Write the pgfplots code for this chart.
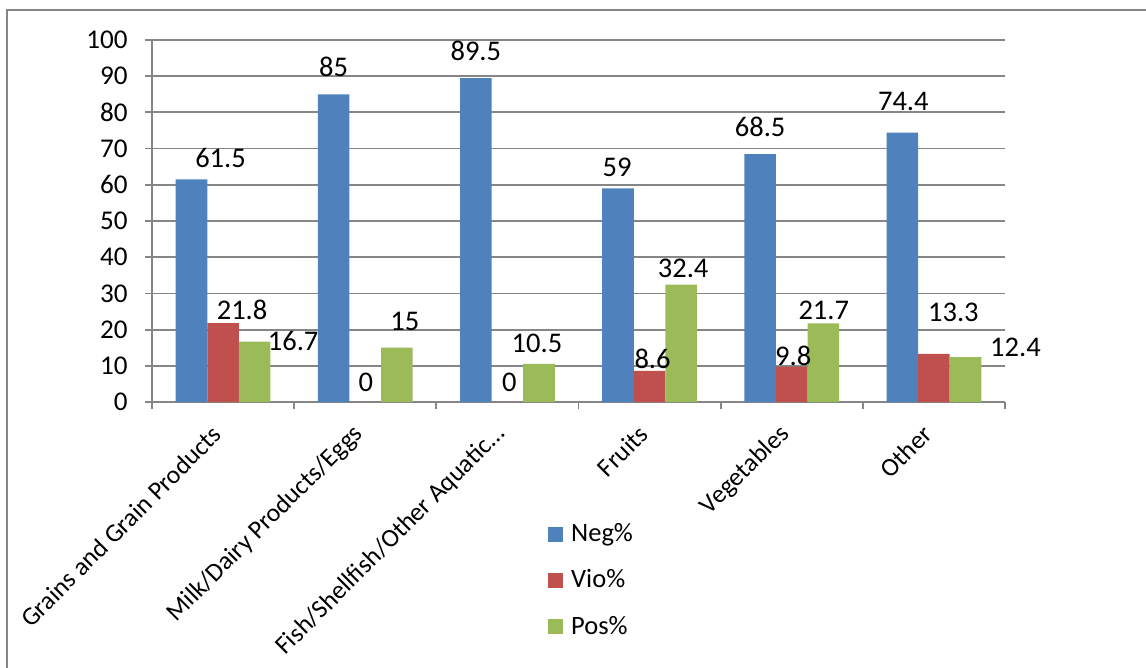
\documentclass[border=0pt]{standalone}
\usepackage{pgfplots}
\pgfplotsset{compat=1.18}
\usepackage{pgfplotstable}
\usepackage{fontspec}
\setmainfont{Carlito}

\definecolor{negc}{HTML}{4F81BD}
\definecolor{vioc}{HTML}{C0504D}
\definecolor{posc}{HTML}{9BBB59}
\definecolor{gridc}{HTML}{868686}

% x = category index, y = percentage,
% dx/dy = offset of the value label from the bar top (in 0.5bp steps)
\pgfplotstableread{
x y dx dy
0 61.5 29 21
1 85 0 27
2 89.5 0 27
3 59 -1 21
4 68.5 0 27
5 74.4 1 31
}\negtab
\pgfplotstableread{
x y dx dy
0 21.8 19 13
1 0 0.5 20
2 0 2 20
3 8.6 3 12
4 9.8 1.5 10.5
5 13.3 19.5 41
}\viotab
\pgfplotstableread{
x y dx dy
0 16.7 38.5 1
1 15 8 26
2 10.5 -2 21
3 32.4 2 16
4 21.7 0.5 13.4
5 12.4 50 10
}\postab

\begin{document}
\begin{tikzpicture}[font=\fontsize{13.3}{16}\selectfont]
\begin{axis}[
  at={(0,0)}, anchor=south west,
  scale only axis, width=426.5bp, height=181bp,
  xmin=-0.5, xmax=5.5, ymin=0, ymax=100,
  axis x line*=bottom, axis y line*=left,
  axis line style={gridc, line width=0.9bp},
  ytick={0,10,...,100},
  ymajorgrids, major grid style={gridc, line width=0.9bp},
  xtick={0,...,5},
  xticklabels={Grains and Grain Products, Milk/Dairy Products/Eggs,
    Fish/Shellfish/Other Aquatic…, Fruits, Vegetables, Other},
  minor xtick={-0.5,0.5,...,5.5},
  tick align=outside,
  major tick length=3.5bp, minor tick length=3.5bp,
  tick style={gridc, line width=0.9bp},
  major x tick style={draw=none},
  xticklabel style={xshift=-3bp, rotate=45, anchor=east, inner sep=0pt,
    font=\fontsize{12.9}{15}\selectfont},
  xticklabel shift=10.5bp,
  yticklabel style={anchor=east, inner sep=0pt, font=\fontsize{13.6}{16}\selectfont},
  yticklabel shift=8.5bp,
  /pgf/number format/assume math mode=true,
  ybar, bar width=0.222,
  legend style={draw=none, fill=none, at={(0.464,-0.335)}, anchor=north west,
    legend cell align=left, row sep=12.5bp, inner sep=0pt,
    nodes={inner sep=0pt, anchor=west}, column sep=4bp},
  legend image code/.code={\fill[#1, draw=none] (0bp,-3.75bp) rectangle (7.5bp,3.75bp);},
  nodes near coords,
  visualization depends on={\thisrow{dx}\as\dx},
  visualization depends on={\thisrow{dy}\as\dy},
  nodes near coords style={anchor=center, xshift=\dx*0.5bp, yshift=\dy*0.5bp,
    text=black, font=\fontsize{14.3}{17}\selectfont},
]
\addplot[fill=negc, draw=none, bar shift=-0.222] table[x=x, y=y] {\negtab};
\addlegendentry{Neg\%}
\addplot[fill=vioc, draw=none, bar shift=0] table[x=x, y=y] {\viotab};
\addlegendentry{Vio\%}
\addplot[fill=posc, draw=none, bar shift=0.222] table[x=x, y=y] {\postab};
\addlegendentry{Pos\%}
\end{axis}
\draw[gridc, line width=1bp] (-72.5bp,-150bp) |- (520bp,196bp);
\pgfresetboundingbox
\path[use as bounding box] (-76bp,-133bp) rectangle (497bp,201bp);
\end{tikzpicture}
\end{document}
